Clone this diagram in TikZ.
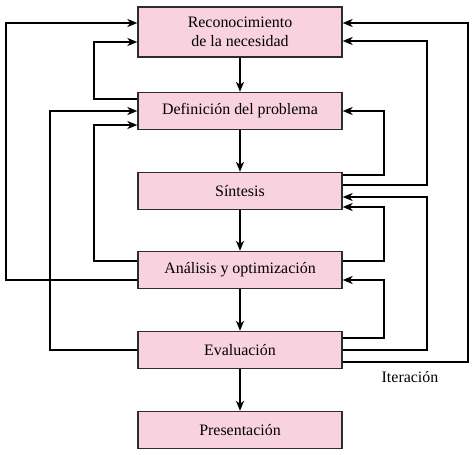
\documentclass[tikz,border=0pt]{standalone}
\usepackage{fontspec}
\setmainfont{Liberation Serif}
\usetikzlibrary{arrows.meta}
\definecolor{boxpink}{RGB}{249,210,223}
\definecolor{boxedge}{RGB}{45,45,45}
\tikzset{
  x=1bp, y=-1bp,
  stage/.style={draw=boxedge, line width=1.3bp, fill=boxpink, minimum width=204bp,
    minimum height=37bp, inner sep=0pt, align=center, font=\fontsize{16}{18.5}\selectfont},
  flow/.style={line width=2bp, -{Stealth[length=10bp,width=8bp,inset=3bp]}},
  lbl/.style={font=\fontsize{16}{18.5}\selectfont, inner sep=0pt}
}
\begin{document}
\begin{tikzpicture}
\useasboundingbox (0,0) rectangle (475,455);
\node[stage, minimum height=50bp] (rec) at (240,32) {Reconocimiento\\de la necesidad};
\node[stage] (def) at (240,111) {Definición del problema};
\node[stage] (sin) at (240,191) {Síntesis};
\node[stage] (ana) at (240,270) {Análisis y optimización};
\node[stage] (eva) at (240,350) {Evaluación};
\node[stage] (pre) at (240,430) {Presentación};
\node[lbl] (it) at (410,377) {Iteración};

% main flow
\draw[flow] (rec) -- (def);
\draw[flow] (def) -- (sin);
\draw[flow] (sin) -- (ana);
\draw[flow] (ana) -- (eva);
\draw[flow] (eva) -- (pre);

% left feedback loops
\draw[flow] ([yshift=-10bp]ana.west) -- ++(-131,0) |- ([yshift=9bp]rec.west);
\draw[flow] ([yshift=12bp]def.west) -- ++(-43,0) |- ([yshift=-10bp]rec.west);
\draw[flow] (eva.west) -- ++(-87,0) |- (def.west);
\draw[flow] ([yshift=9bp]ana.west) -- ++(-43,0) |- ([yshift=-14bp]def.west);

% right feedback loops
\draw[flow] ([yshift=-12bp]eva.east) -- ++(125,0) |- ([yshift=9bp]rec.east);
\draw[flow] ([yshift=6bp]sin.east) -- ++(84,0) |- ([yshift=-9bp]rec.east);
\draw[flow] ([yshift=16bp]sin.east) -- ++(41,0) |- (def.east);
\draw[flow] (eva.east) -- ++(84,0) |- ([yshift=-6bp]sin.east);
\draw[flow] ([yshift=9bp]ana.east) -- ++(41,0) |- ([yshift=-16bp]sin.east);
\draw[flow] ([yshift=12bp]eva.east) -- ++(41,0) |- ([yshift=-10bp]ana.east);
\end{tikzpicture}
\end{document}
